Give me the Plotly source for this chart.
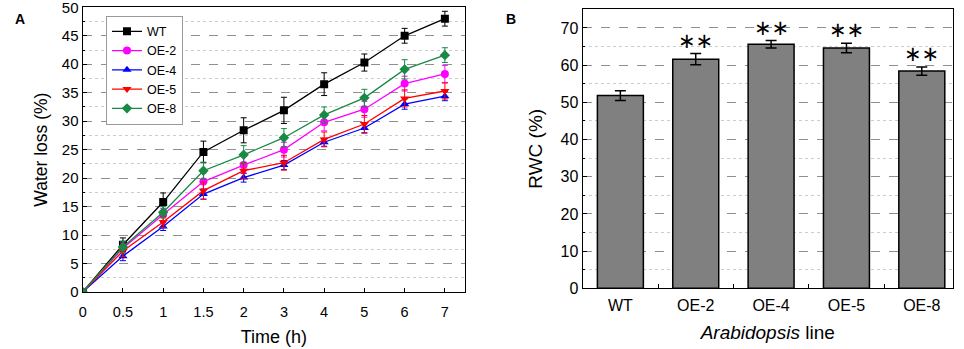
import plotly.graph_objects as go

# ---------------- Data ----------------
time_labels = ["0", "0.5", "1", "1.5", "2", "3", "4", "5", "6", "7"]

wt = [0, 8.3, 15.8, 24.6, 28.4, 31.9, 36.5, 40.3, 45.0, 48.0]
wt_err = [0, 1.2, 1.6, 1.9, 2.2, 2.3, 2.0, 1.5, 1.3, 1.3]
oe2 = [0, 7.7, 13.6, 19.4, 22.3, 25.0, 29.8, 32.1, 36.6, 38.3]
oe2_err = [0, 0.9, 1.1, 1.5, 1.5, 1.3, 1.5, 1.4, 1.3, 1.5]
oe4 = [0, 6.3, 11.5, 17.2, 20.1, 22.3, 26.3, 28.8, 33.0, 34.4]
oe4_err = [0, 0.8, 0.7, 0.9, 0.8, 0.8, 0.7, 0.9, 0.9, 0.8]
oe5 = [0, 7.2, 12.3, 17.8, 21.3, 22.7, 26.8, 29.5, 34.0, 35.3]
oe5_err = [0, 1.0, 1.0, 1.5, 1.4, 1.3, 1.3, 1.5, 1.5, 1.4]
oe8 = [0, 7.9, 14.0, 21.3, 24.1, 27.1, 31.1, 34.1, 39.1, 41.6]
oe8_err = [0, 1.0, 1.0, 1.5, 1.6, 1.6, 1.4, 1.5, 1.7, 1.3]

lines = ["WT", "OE-2", "OE-4", "OE-5", "OE-8"]
rwc = [51.8, 61.6, 65.6, 64.6, 58.4]
rwc_err = [1.3, 1.5, 1.0, 1.3, 1.1]
rwc_sig = ["", "∗∗", "∗∗", "∗∗", "∗∗"]

# ---------------- Figure ----------------
FONT = "Liberation Sans, Arial, sans-serif"
W, H = 964, 349
fig = go.Figure()

x_idx = list(range(len(time_labels)))
series = [
    ("WT", wt, wt_err, "black", "square"),
    ("OE-2", oe2, oe2_err, "#ff00ff", "circle"),
    ("OE-4", oe4, oe4_err, "#0000ff", "triangle-up"),
    ("OE-5", oe5, oe5_err, "#ff0000", "triangle-down"),
    ("OE-8", oe8, oe8_err, "#178a43", "diamond"),
]
for name, vals, errs, col, sym in series:
    fig.add_trace(go.Scatter(
        x=x_idx, y=vals, name=name, mode="lines+markers",
        line=dict(color=col, width=1.3),
        marker=dict(color=col, symbol=sym, size=8),
        error_y=dict(type="data", array=errs, visible=True, color=col,
                     thickness=1, width=3),
        xaxis="x", yaxis="y",
    ))

fig.add_trace(go.Bar(
    x=lines, y=rwc, showlegend=False,
    marker=dict(color="#808080", line=dict(color="black", width=1.5)),
    width=0.61,
    error_y=dict(type="data", array=rwc_err, visible=True, color="black",
                 thickness=1.5, width=5.5),
    xaxis="x2", yaxis="y2",
))

annotations = []
for cat, v, e, s in zip(lines, rwc, rwc_err, rwc_sig):
    if s:
        annotations.append(dict(x=cat, y=v + e, text=s, showarrow=False,
                                xref="x2", yref="y2", yanchor="bottom", yshift=-1,
                                font=dict(family="DejaVu Sans", size=21, color="black")))
annotations += [
    dict(text="<b>A</b>", x=13 / W, y=1 - 9 / H, xref="paper", yref="paper",
         showarrow=False, font=dict(size=14, family=FONT, color="black")),
    dict(text="<b>B</b>", x=511 / W, y=1 - 9 / H, xref="paper", yref="paper",
         showarrow=False, font=dict(size=14, family=FONT, color="black")),
]

axis_common = dict(showline=True, linecolor="black", linewidth=1.3, mirror=True,
                   zeroline=False, automargin=False, ticklabeloverflow="allow",
                   ticks="inside", ticklen=4, tickcolor="black")

fig.update_layout(
    width=W, height=H,
    margin=dict(l=0, r=0, t=0, b=0),
    paper_bgcolor="white", plot_bgcolor="white",
    font=dict(family=FONT, color="black"),
    xaxis=dict(domain=[82.7 / W, 465 / W], range=[0, 9.5],
               tickmode="array", tickvals=x_idx, ticktext=time_labels,
               tickfont=dict(size=14.5), ticklabelstandoff=6,
               showgrid=False,
               title=dict(text="Time (h)", font=dict(size=18), standoff=11),
               anchor="y", **axis_common),
    yaxis=dict(domain=[1 - 292 / H, 1 - 7.3 / H], range=[0, 50.001], dtick=5,
               tickfont=dict(size=15),
               showgrid=True, gridcolor="#8f8f8f", griddash="dash", gridwidth=1,
               minor=dict(dtick=2.5, showgrid=True, gridcolor="#cccccc",
                          griddash="dot", ticks="inside", ticklen=2,
                          tickcolor="black"),
               title=dict(text="Water loss (%)", font=dict(size=17.5), standoff=9),
               anchor="x", **axis_common),
    xaxis2=dict(domain=[582.7 / W, 952.7 / W], range=[-0.5, 4.41],
                type="category", tickson="boundaries",
                tickfont=dict(size=16), ticklabelstandoff=2,
                showgrid=False,
                title=dict(text="<i>Arabidopsis</i> line", font=dict(size=19),
                           standoff=13),
                anchor="y2", **axis_common),
    yaxis2=dict(domain=[1 - 288.3 / H, 1 - 9.3 / H], range=[0, 75], dtick=10,
                tickfont=dict(size=16),
                showgrid=True, gridcolor="#8f8f8f", griddash="dash", gridwidth=1,
                minor=dict(dtick=5, showgrid=True, gridcolor="#cccccc",
                           griddash="dot", ticks="inside", ticklen=2,
                           tickcolor="black"),
                title=dict(text="RWC (%)", font=dict(size=19), standoff=12),
                anchor="x2", **axis_common),
    legend=dict(x=106 / W, y=1 - 15.7 / H, xanchor="left", yanchor="top",
                bgcolor="white", bordercolor="#999999", borderwidth=1,
                font=dict(family=FONT, size=12.5, color="black"),
                tracegroupgap=0, itemwidth=30),
    annotations=annotations,
)

fig.write_html("out.html",
               config={"displayModeBar": False},
               post_script="document.body.style.margin='0';"
                           "document.body.style.overflow='hidden';")
